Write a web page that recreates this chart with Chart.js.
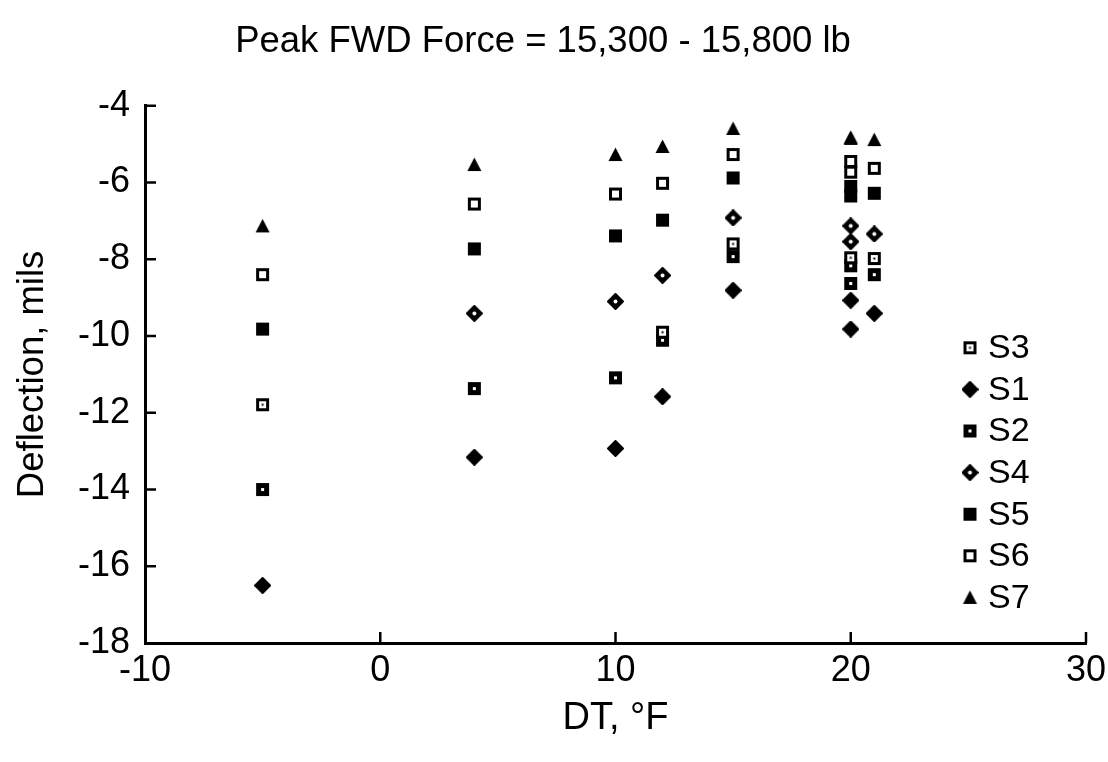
<!DOCTYPE html>
<html>
<head>
<meta charset="utf-8">
<script src="https://cdn.jsdelivr.net/npm/chart.js@4.4.1/dist/chart.umd.min.js"></script>
<style>
  html, body { margin: 0; padding: 0; background: #fff; }
  #wrap { width: 1108px; height: 762px; }
</style>
</head>
<body>
<div id="wrap"><canvas id="fwdChart" width="1108" height="762"></canvas></div>
<script>
// deflection vs temperature difference
const s1X = [-5, 4, 10, 12, 15, 20, 20, 21];
const s1Y = [-16.5, -13.16, -12.93, -11.58, -8.81, -9.82, -9.07, -9.41];
const s2X = [-5, 4, 10, 12, 15, 20, 20, 21];
const s2Y = [-14.0, -11.37, -11.09, -10.11, -7.93, -8.63, -8.17, -8.40];
const s3X = [-5, 12, 15, 20, 21];
const s3Y = [-11.79, -9.90, -7.60, -7.96, -7.98];
const s4X = [4, 10, 12, 15, 20, 20, 21];
const s4Y = [-9.41, -9.10, -8.42, -6.92, -7.54, -7.13, -7.34];
const s5X = [-5, 4, 10, 12, 15, 20, 20, 21];
const s5Y = [-9.82, -7.73, -7.39, -6.98, -5.88, -6.35, -6.10, -6.28];
const s6X = [-5, 4, 10, 12, 15, 20, 20, 21];
const s6Y = [-8.40, -6.56, -6.30, -6.02, -5.27, -5.73, -5.45, -5.63];
const s7X = [-5, 4, 10, 12, 15, 20, 20, 21];
const s7Y = [-7.13, -5.53, -5.27, -5.06, -4.59, -4.85, -4.82, -4.88];

const xTicks = [-10, 0, 10, 20, 30];
const yTicks = [-18, -16, -14, -12, -10, -8, -6, -4];

const FONT = "'Liberation Sans', Arial, Helvetica, sans-serif";

// little marker images, drawn once
function makeMarker(kind) {
    const c = document.createElement('canvas');
    c.width = 17; c.height = 17;
    const g = c.getContext('2d');
    g.fillStyle = '#000';
    if (kind === 'diamond' || kind === 'diamondHole') {
        // rounded diamond, close to an octagon in the scan
        g.beginPath();
        g.moveTo(8.5, 1); g.lineTo(16, 8.5); g.lineTo(8.5, 16); g.lineTo(1, 8.5);
        g.closePath();
        g.lineJoin = 'round';
        g.lineWidth = 2;
        g.strokeStyle = '#000';
        g.fill(); g.stroke();
        if (kind === 'diamondHole') {
            g.fillStyle = '#fff';
            g.beginPath(); g.arc(8.5, 8.5, 2, 0, Math.PI * 2); g.fill();
        }
    } else if (kind === 'triangle') {
        g.beginPath();
        g.moveTo(8.5, 1.5); g.lineTo(15.5, 15); g.lineTo(1.5, 15);
        g.closePath(); g.fill();
    } else {
        g.fillRect(2, 2, 13, 13);
        g.fillStyle = '#fff';
        if (kind === 'squareHole') g.fillRect(7, 7, 3, 3);
        if (kind === 'openSquare') g.fillRect(5, 5, 7, 7);
        if (kind === 'squareDot') {
            g.fillRect(5, 5, 7, 7);
            g.fillStyle = '#000';
            g.fillRect(7.5, 7.5, 2, 2);
        }
    }
    return c;
}

function pts(xs, ys) {
    return xs.map((x, i) => ({ x: x, y: ys[i] }));
}

const datasets = [
    { label: 'S3', data: pts(s3X, s3Y), pointStyle: makeMarker('squareDot') },
    { label: 'S1', data: pts(s1X, s1Y), pointStyle: makeMarker('diamond') },
    { label: 'S2', data: pts(s2X, s2Y), pointStyle: makeMarker('squareHole') },
    { label: 'S4', data: pts(s4X, s4Y), pointStyle: makeMarker('diamondHole') },
    { label: 'S5', data: pts(s5X, s5Y), pointStyle: makeMarker('square') },
    { label: 'S6', data: pts(s6X, s6Y), pointStyle: makeMarker('openSquare') },
    { label: 'S7', data: pts(s7X, s7Y), pointStyle: makeMarker('triangle') }
];
datasets.forEach(d => { d.showLine = false; d.pointRadius = 8; });

// inward tick marks
const innerTicks = {
    id: 'innerTicks',
    afterDraw(chart) {
        const ctx = chart.ctx;
        const xs = chart.scales.x, ys = chart.scales.y;
        const area = chart.chartArea;
        ctx.save();
        ctx.strokeStyle = '#000';
        ctx.lineWidth = 2.5;
        ctx.beginPath();
        xTicks.slice(1).forEach(v => {
            const px = xs.getPixelForValue(v);
            ctx.moveTo(px, area.bottom); ctx.lineTo(px, area.bottom - 11);
        });
        yTicks.slice(1).forEach(v => {
            const py = ys.getPixelForValue(v);
            ctx.moveTo(area.left, py); ctx.lineTo(area.left + 11, py);
        });
        ctx.stroke();
        ctx.restore();
    }
};

// legend sits inside the plot, lower right
const insideLegend = {
    id: 'insideLegend',
    afterDraw(chart) {
        const ctx = chart.ctx;
        const area = chart.chartArea;
        const lx = area.right - 116;
        const ly = area.top + 242;
        ctx.save();
        ctx.fillStyle = '#000';
        ctx.font = '34px ' + FONT;
        ctx.textBaseline = 'middle';
        chart.data.datasets.forEach((d, i) => {
            const y = ly + i * 41.6;
            const img = d.pointStyle;
            ctx.drawImage(img, lx - img.width / 2, y - img.height / 2);
            ctx.fillText(d.label, lx + 18, y + 1);
        });
        ctx.restore();
    }
};

new Chart(document.getElementById('fwdChart').getContext('2d'), {
    type: 'scatter',
    data: { datasets: datasets },
    options: {
        responsive: false,
        animation: false,
        layout: { padding: { left: 0, right: 22, top: 0, bottom: 0 } },
        plugins: {
            legend: { display: false },
            tooltip: { enabled: false },
            title: {
                display: true,
                text: 'Peak FWD Force = 15,300 - 15,800 lb',
                color: '#000',
                font: { family: FONT, size: 36.5, weight: 'normal' },
                padding: { top: 20, bottom: 42 }
            }
        },
        scales: {
            x: {
                type: 'linear',
                min: -10,
                max: 30,
                afterBuildTicks: s => { s.ticks = xTicks.map(v => ({ value: v })); },
                afterFit: s => { s.height = 119; },
                grid: { display: false },
                border: { color: '#000', width: 3 },
                ticks: { color: '#000', padding: -2, font: { family: FONT, size: 36 } },
                title: {
                    display: true,
                    text: 'DT, °F',
                    color: '#000',
                    font: { family: FONT, size: 38 },
                    padding: { top: 0, bottom: 21 }
                }
            },
            y: {
                type: 'linear',
                min: -18,
                max: -4,
                afterBuildTicks: s => { s.ticks = yTicks.map(v => ({ value: v })); },
                afterFit: s => { s.width = 145; },
                grid: { display: false },
                border: { color: '#000', width: 3 },
                ticks: { color: '#000', padding: 7, font: { family: FONT, size: 36 } },
                title: {
                    display: true,
                    text: 'Deflection, mils',
                    color: '#000',
                    font: { family: FONT, size: 36.5 },
                    padding: { top: 11, bottom: 0 }
                }
            }
        }
    },
    plugins: [innerTicks, insideLegend]
});
</script>
</body>
</html>
